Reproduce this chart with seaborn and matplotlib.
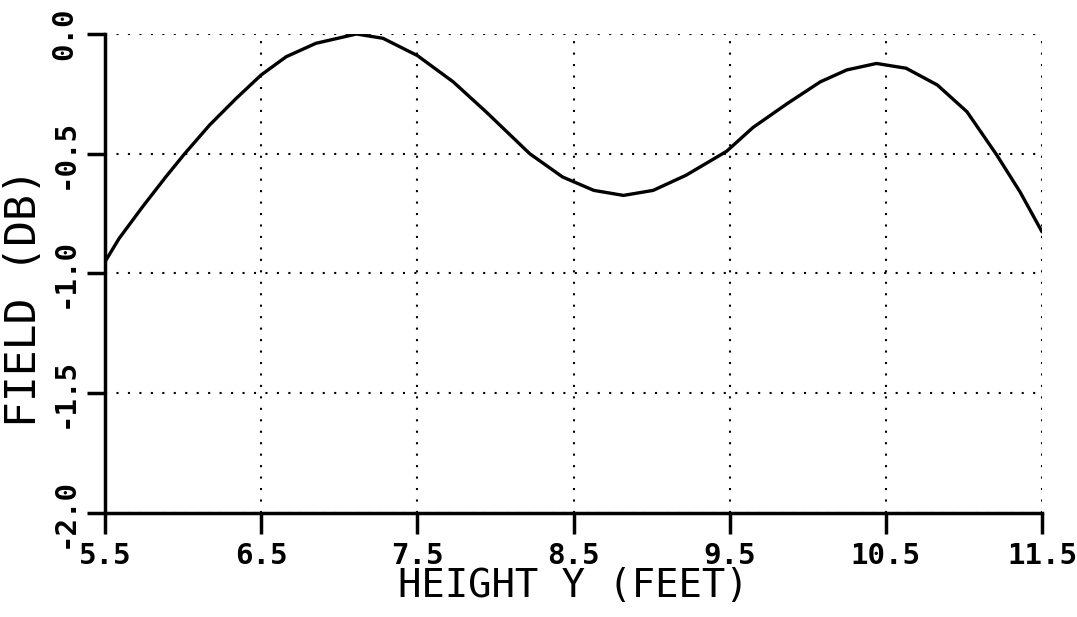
import pandas as pd
import matplotlib
matplotlib.use("Agg")
import matplotlib.pyplot as plt
import seaborn as sns

# Values
height_ft = [5.5, 5.59, 5.74, 5.89, 6.01, 6.17, 6.34, 6.5, 6.66, 6.85, 7.11, 7.28,
             7.5, 7.73, 7.94, 8.22, 8.43, 8.63, 8.82, 9.01, 9.22, 9.48, 9.65,
             9.87, 10.08, 10.25, 10.44, 10.63, 10.83, 11.02, 11.21, 11.36, 11.5]
field_db = [-0.951, -0.854, -0.722, -0.596, -0.5, -0.38, -0.269, -0.171, -0.095,
            -0.039, 0.0, -0.018, -0.09, -0.2, -0.325, -0.5, -0.597, -0.653, -0.674,
            -0.653, -0.59, -0.49, -0.39, -0.29, -0.2, -0.15, -0.123, -0.143, -0.213,
            -0.325, -0.505, -0.66, -0.826]

x_ticks = [5.5, 6.5, 7.5, 8.5, 9.5, 10.5, 11.5]
y_ticks = [-2.0, -1.5, -1.0, -0.5, 0.0]

df = pd.DataFrame({"height": height_ft, "field": field_db})

sns.set_theme(style="white")
plt.rcParams["font.family"] = ["DejaVu Sans Mono"]

fig = plt.figure(figsize=(10.77, 6.17), dpi=100)
ax = fig.add_axes([0.0975, 0.1686, 0.87, 0.7763])

sns.lineplot(data=df, x="height", y="field", color="black", linewidth=2.4, ax=ax)

ax.set_xlim(5.5, 11.5)
ax.set_ylim(-2.0, 0.0)
ax.set_xticks(x_ticks)
ax.set_yticks(y_ticks)
ax.set_xticklabels([f"{t:.1f}" for t in x_ticks], fontsize=21, fontweight="bold")
ax.set_yticklabels([f"{t:.1f}" for t in y_ticks], fontsize=21, fontweight="bold",
                   rotation=90, va="center")

ax.grid(True, color="black", linestyle=(0, (1, 4.5)), linewidth=1.5)
ax.tick_params(axis="both", direction="out", width=2.5, color="black",
               bottom=True, left=True, labelcolor="black")
ax.tick_params(axis="x", length=15, pad=6)
ax.tick_params(axis="y", length=13, pad=6)

sns.despine(ax=ax)
for side in ["left", "bottom"]:
    ax.spines[side].set_color("black")
    ax.spines[side].set_linewidth(2.5)

ax.set_xlabel("HEIGHT Y (FEET)", fontsize=28, color="black", labelpad=-2)
ax.set_ylabel("FIELD (DB)", fontsize=31, color="black")
ax.yaxis.set_label_coords(-0.064, 0.45)

fig.savefig("out.png", dpi=100)
